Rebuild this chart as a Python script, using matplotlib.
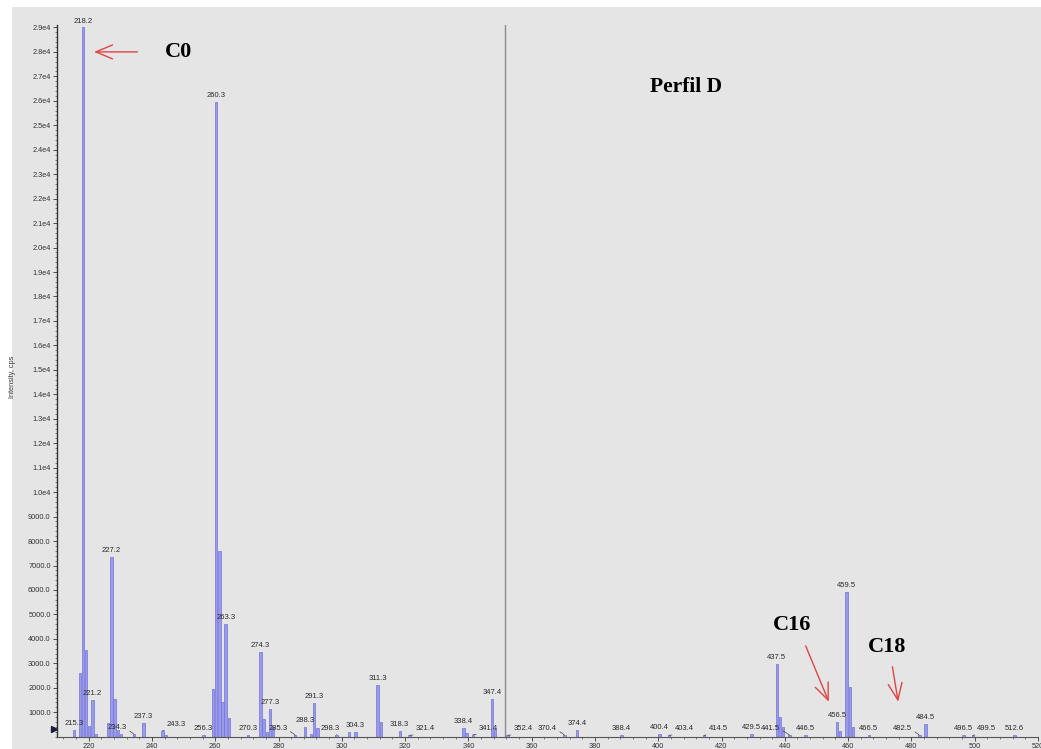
import matplotlib.pyplot as plt
import matplotlib.patches as patches
import matplotlib.transforms as mtransforms
from matplotlib.ticker import FixedLocator, MultipleLocator, FuncFormatter

plt.rcParams['font.family'] = ['Liberation Sans', 'DejaVu Sans']

# Mass spectrum, m/z and intensity (cps)
mz = [215.3, 217.2, 218.2, 219.2, 220.2, 221.2, 222.2, 226.2, 227.2, 228.2,
      229.2, 230.2, 234.3, 237.3, 243.3, 244.3, 256.3, 259.3, 260.3, 261.3,
      262.3, 263.3, 264.3, 270.3, 274.3, 275.3, 276.3, 277.3, 278.3, 285.3,
      288.3, 290.3, 291.3, 292.3, 298.3, 302.3, 304.3, 311.3, 312.3, 318.3,
      321.4, 338.4, 339.4, 341.4, 347.4, 348.4, 352.4, 370.4, 374.4, 388.4,
      400.4, 403.4, 414.5, 429.5, 437.5, 438.5, 439.5, 441.5, 446.5, 456.5,
      457.5, 459.5, 460.5, 461.5, 466.5, 482.5, 484.5, 496.5, 499.5, 512.6]
intensity = [270, 2620, 29000, 3550, 440, 1500, 100, 570, 7360, 1530,
             270, 90, 100, 550, 250, 80, 80, 1940, 25970, 7610,
             1430, 4610, 750, 70, 3480, 710, 200, 1120, 410, 60,
             410, 100, 1390, 350, 80, 180, 190, 2110, 610, 250,
             60, 340, 150, 80, 1540, 300, 60, 60, 270, 60,
             100, 60, 60, 120, 2970, 790, 380, 60, 60, 610,
             250, 5930, 2050, 400, 60, 60, 520, 60, 60, 60]

# Peaks that carry an m/z label
labelled = [215.3, 218.2, 221.2, 227.2, 234.3, 237.3, 243.3, 256.3, 260.3, 263.3,
            270.3, 274.3, 277.3, 285.3, 288.3, 291.3, 298.3, 304.3, 311.3, 318.3,
            321.4, 338.4, 341.4, 347.4, 352.4, 370.4, 374.4, 388.4, 400.4, 403.4,
            414.5, 429.5, 437.5, 441.5, 446.5, 456.5, 459.5, 466.5, 482.5, 484.5,
            496.5, 499.5, 512.6]

# labels pushed sideways (m/z units) to avoid neighbours, joined by a hook
label_shift = {234.3: -5.2, 243.3: 4.5, 285.3: -5.5, 298.3: -2.0, 321.4: 5.0,
               341.4: 5.0, 352.4: 4.9, 370.4: -5.4, 403.4: 4.8, 414.5: 4.5,
               441.5: -6.0, 482.5: -5.3, 499.5: 4.3}

y_ticks = list(range(1000, 30000, 1000))
x_ticks = list(range(220, 540, 20))
period_split = 351.7

BG = '#e5e5e5'
BAR_FACE = '#9a9aea'
BAR_EDGE = '#7272dc'
ARROW_RED = '#e24444'

fig = plt.figure(figsize=(10.41, 7.49), dpi=100, facecolor='white')
fig.patches.append(patches.Rectangle((12 / 1041, 0), 1, 1 - 7 / 749,
                                     transform=fig.transFigure,
                                     facecolor=BG, edgecolor='none', zorder=-10))

ax = fig.add_axes([57 / 1041, 1 - 736.7 / 749, (1038 - 57) / 1041, (736.7 - 25) / 749])
ax.set_facecolor('none')
ax.set_xlim(210, 520)
ax.set_ylim(0, 29100)

ax.bar(mz, intensity, width=0.75, color=BAR_FACE, edgecolor=BAR_EDGE,
       linewidth=0.5, zorder=2)

# peak labels
lookup = dict(zip(mz, intensity))
for m in labelled:
    h = lookup[m]
    dx = label_shift.get(m, 0.0)
    txt = f'{m:.1f}'
    if dx == 0.0:
        ax.text(m, h + 120, txt, ha='center', va='bottom', fontsize=5.5,
                color='#2a2a2a', zorder=4)
    else:
        ax.annotate(txt, xy=(m, h), xytext=(m + dx, h + 120),
                    ha='center', va='bottom', fontsize=5.5, color='#2a2a2a',
                    arrowprops=dict(arrowstyle='-', lw=0.5, color='#444444',
                                    shrinkA=0, shrinkB=0,
                                    connectionstyle='arc3,rad=-0.2'),
                    zorder=4)

# divider line between the two acquisition periods
ax.axvline(period_split, color='#8c8c8c', lw=1.0, zorder=1)

# threshold marker on the intensity axis
blend = mtransforms.blended_transform_factory(ax.transAxes, ax.transData)
ax.plot([-0.003], [300], marker='>', markersize=4, color='#1c1c3c',
        transform=blend, clip_on=False, zorder=5)

# axes styling
for side in ['top', 'right']:
    ax.spines[side].set_visible(False)
ax.spines['left'].set_color('#333333')
ax.spines['left'].set_linewidth(1.0)
ax.spines['bottom'].set_color('#555555')
ax.spines['bottom'].set_linewidth(0.8)

ax.yaxis.set_major_locator(FixedLocator(y_ticks))
ax.yaxis.set_minor_locator(MultipleLocator(200))
ax.yaxis.set_major_formatter(FuncFormatter(
    lambda v, p: f'{v / 1e4:.1f}e4' if v >= 10000 else f'{v:.1f}'))
ax.xaxis.set_major_locator(FixedLocator(x_ticks))
ax.xaxis.set_minor_locator(MultipleLocator(4))

ax.tick_params(axis='both', which='major', labelsize=5.3, colors='#333333',
               length=3, width=0.6, pad=1.5)
ax.tick_params(axis='both', which='minor', length=1.5, width=0.5, colors='#555555')

fig.text(13 / 1041, 1 - 377 / 749, 'Intensity, cps', rotation=90, fontsize=5.3,
         color='#333333', ha='center', va='center')

# annotations
serif_bold = dict(family=['Liberation Serif', 'DejaVu Serif'], weight='bold')
arrow_kw = dict(arrowstyle='->,head_length=1.2,head_width=0.5', color=ARROW_RED,
                lw=1.0, mutation_scale=10, shrinkA=0, shrinkB=0)

ax.annotate('', xy=(221.7, 28000), xytext=(235.4, 28000), arrowprops=arrow_kw)
ax.text(248.4, 27985, 'C0', fontsize=16, ha='center', va='center', **serif_bold)

ax.text(408.9, 26570, 'Perfil D', fontsize=15.5, ha='center', va='center', **serif_bold)

ax.annotate('', xy=(453.9, 1430), xytext=(446.6, 3710), arrowprops=arrow_kw)
ax.text(442.2, 4570, 'C16', fontsize=16, ha='center', va='center', **serif_bold)

ax.annotate('', xy=(475.8, 1430), xytext=(474.0, 2860), arrowprops=arrow_kw)
ax.text(472.2, 3680, 'C18', fontsize=16, ha='center', va='center', **serif_bold)

fig.savefig('out.png', dpi=100, facecolor=fig.get_facecolor())
